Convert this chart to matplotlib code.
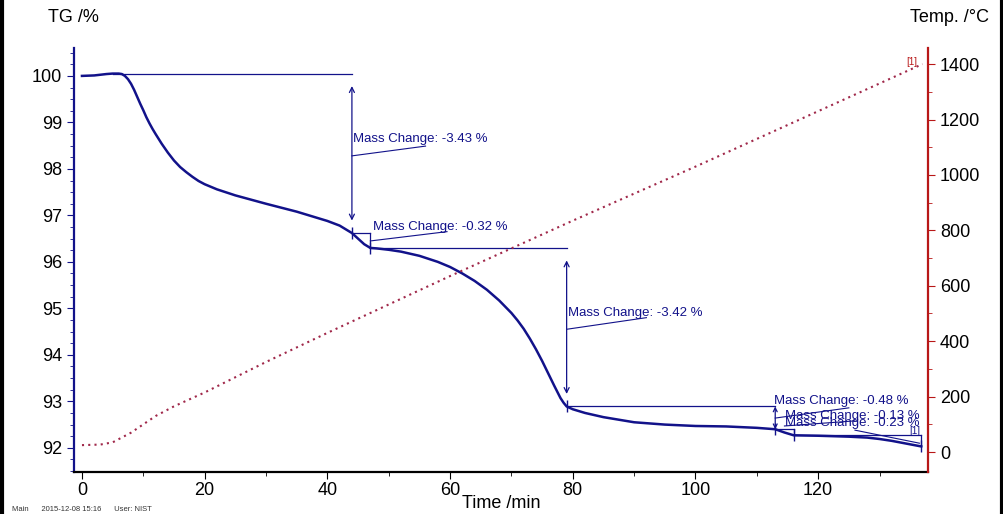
import numpy as np
import matplotlib
matplotlib.use('Agg')
import matplotlib.pyplot as plt
from matplotlib.lines import Line2D
from matplotlib.ticker import MultipleLocator

plt.rcParams['font.family'] = ['Liberation Sans', 'DejaVu Sans']

# TG curve (mass %)
tg_time = [0, 2, 4, 5, 6, 6.5, 7, 7.5, 8, 8.5, 9, 9.5, 10, 10.5, 11, 11.5, 12, 13, 14,
           15, 16, 17, 18, 19, 20, 22, 25, 30, 35, 40, 42, 44,
           45, 46, 47, 48, 50, 52, 55, 58, 60, 62, 64, 66, 68, 70, 71, 72, 73, 74,
           75, 76, 77, 78, 78.5, 79, 80, 82, 85, 90,
           95, 100, 105, 110, 113, 114.5, 116, 120, 125, 128, 130, 132, 134, 136.8]
tg_mass = [100.0, 100.01, 100.04, 100.05, 100.05, 100.04, 100.0, 99.93, 99.83, 99.7,
           99.55, 99.4, 99.26, 99.11, 98.98, 98.86, 98.75, 98.54, 98.35,
           98.18, 98.04, 97.93, 97.83, 97.74, 97.67, 97.56, 97.43, 97.25, 97.08, 96.88, 96.78, 96.62,
           96.5, 96.38, 96.30, 96.29, 96.26, 96.22, 96.13, 96.0, 95.89, 95.75, 95.59, 95.4, 95.17, 94.9,
           94.74, 94.56, 94.35, 94.12, 93.87, 93.6, 93.33, 93.07, 92.97, 92.89, 92.83, 92.75, 92.66, 92.55,
           92.50, 92.47, 92.46, 92.43, 92.40, 92.33, 92.27, 92.26, 92.24, 92.22, 92.19, 92.15, 92.1, 92.03]

# temperature programme
temp_time = [0, 3, 5, 8, 10, 12, 15, 20, 30, 40, 60, 80, 100, 120, 137]
temp_val = [25, 27, 35, 70, 100, 130, 165, 215, 325, 430, 635, 835, 1030, 1230, 1400]

# mass change evaluation steps
step_start = [44, 47, 79, 113, 116]
step_end = [47, 79, 113, 116, 136.8]
step_labels = ['-0.32 %', '-3.42 %', '-0.48 %', '-0.13 %', '-0.23 %']
first_label = '-3.43 %'

navy = '#12128a'
red = '#b81818'
tcol = '#a0284a'

fig = plt.figure(figsize=(10.04, 5.14), dpi=100)
ax = fig.add_axes([0.0737, 0.0817, 0.8506, 0.8249])
ax2 = ax.twinx()

ax.plot(tg_time, tg_mass, color=navy, lw=1.8, zorder=5)
ax2.plot(temp_time, temp_val, color=tcol, lw=1.5, ls=(0, (1, 2.0)))

ax.set_xlim(-1.3, 137.9)
ax.set_ylim(91.48, 100.6)
ax2.set_ylim(-72, 1458)

ax.xaxis.set_major_locator(MultipleLocator(20))
ax.xaxis.set_minor_locator(MultipleLocator(10))
ax.yaxis.set_major_locator(MultipleLocator(1))
ax.yaxis.set_minor_locator(MultipleLocator(0.25))
ax2.yaxis.set_major_locator(MultipleLocator(200))
ax2.yaxis.set_minor_locator(MultipleLocator(100))

for a in (ax, ax2):
    a.spines['top'].set_visible(False)
ax.spines['right'].set_visible(False)
ax2.spines['left'].set_visible(False)
ax2.spines['bottom'].set_visible(False)
ax.spines['left'].set_color(navy)
ax.spines['left'].set_linewidth(1.6)
ax2.spines['right'].set_color(red)
ax2.spines['right'].set_linewidth(1.6)
ax.spines['bottom'].set_color('black')
ax.spines['bottom'].set_linewidth(1.6)

ax.tick_params(axis='x', which='both', direction='out', colors='black', labelsize=13, pad=2)
ax.tick_params(axis='x', which='major', length=5)
ax.tick_params(axis='x', which='minor', length=3)
ax.tick_params(axis='y', which='both', direction='out', color=navy, labelcolor='black', labelsize=13)
ax.tick_params(axis='y', which='major', length=5)
ax.tick_params(axis='y', which='minor', length=3)
ax2.tick_params(axis='y', which='both', direction='out', color=red, labelcolor='black', labelsize=13)
ax2.tick_params(axis='y', which='major', length=5)
ax2.tick_params(axis='y', which='minor', length=3)

ax.set_xlabel('Time /min', fontsize=13)
ax.xaxis.set_label_coords(0.5, -0.054)
fig.text(0.048, 0.965, 'TG /%', fontsize=13, ha='left', va='center')
fig.text(0.985, 0.965, 'Temp. /\u00b0C', fontsize=13, ha='right', va='center')
fig.text(0.012, 0.006, 'Main      2015-12-08 15:16      User: NIST', fontsize=5.5, color='#333333')

# annotations
tfs = 9.5
arr = dict(arrowstyle='<->', color=navy, lw=0.9, shrinkA=9, shrinkB=9, mutation_scale=9)


def lvl(t):
    return np.interp(t, tg_time, tg_mass)


# first step, from curve maximum
t_max = tg_time[int(np.argmax(tg_mass))]
top = max(tg_mass)
ax.plot([t_max, step_start[0]], [top, top], color=navy, lw=0.9)
ax.plot(step_start[0], lvl(step_start[0]), marker='|', ms=8, color=navy, mew=1)
ax.annotate('', xy=(step_start[0], lvl(step_start[0])), xytext=(step_start[0], top), arrowprops=arr)
ax.plot([step_start[0], step_start[0] + 12], [98.28, 98.49], color=navy, lw=0.8)
ax.text(step_start[0] + 0.1, 98.52, 'Mass Change: ' + first_label, color=navy, fontsize=tfs, va='bottom')

text_pos = [(47.4, 96.63), (79.3, 94.78), (112.8, 92.87), (114.6, 92.56), (114.6, 92.41)]
leaders = [((47, 96.45), (59.5, 96.65)),
           ((79, 94.55), (92, 94.80)),
           ((113, 92.64), (125, 92.86)),
           ((114.5, 92.47), (126, 92.58)),
           ((126, 92.38), (136.5, 92.1))]
for i, (t0, t1, lab) in enumerate(zip(step_start, step_end, step_labels)):
    y0, y1 = lvl(t0), lvl(t1)
    ax.plot([t0, t1], [y0, y0], color=navy, lw=0.9)
    ax.plot(t1, y1, marker='|', ms=8, color=navy, mew=1)
    if i == 1:
        ax.annotate('', xy=(t1, y1), xytext=(t1, y0), arrowprops=arr)
    elif i == 2:
        ax.annotate('', xy=(t1, y1), xytext=(t1, y0),
                    arrowprops=dict(arrowstyle='<->', color=navy, lw=0.9, shrinkA=0, shrinkB=0, mutation_scale=7))
    else:
        ax.plot([t1, t1], [y0, y1], color=navy, lw=0.9)
    (lx0, ly0), (lx1, ly1) = leaders[i]
    ax.plot([lx0, lx1], [ly0, ly1], color=navy, lw=0.8)
    tx, ty = text_pos[i]
    ax.text(tx, ty, 'Mass Change: ' + lab, color=navy, fontsize=tfs, va='bottom')

ax.text(134.9, 92.3, '[1]', color=navy, fontsize=7)
ax2.text(134.3, 1398, '[1]', color=red, fontsize=7)

# figure frame on left and right
fig.add_artist(Line2D([0.002, 0.002], [0, 1], color='black', lw=3, transform=fig.transFigure))
fig.add_artist(Line2D([0.998, 0.998], [0, 1], color='black', lw=3, transform=fig.transFigure))

fig.savefig('out.png', dpi=100)
